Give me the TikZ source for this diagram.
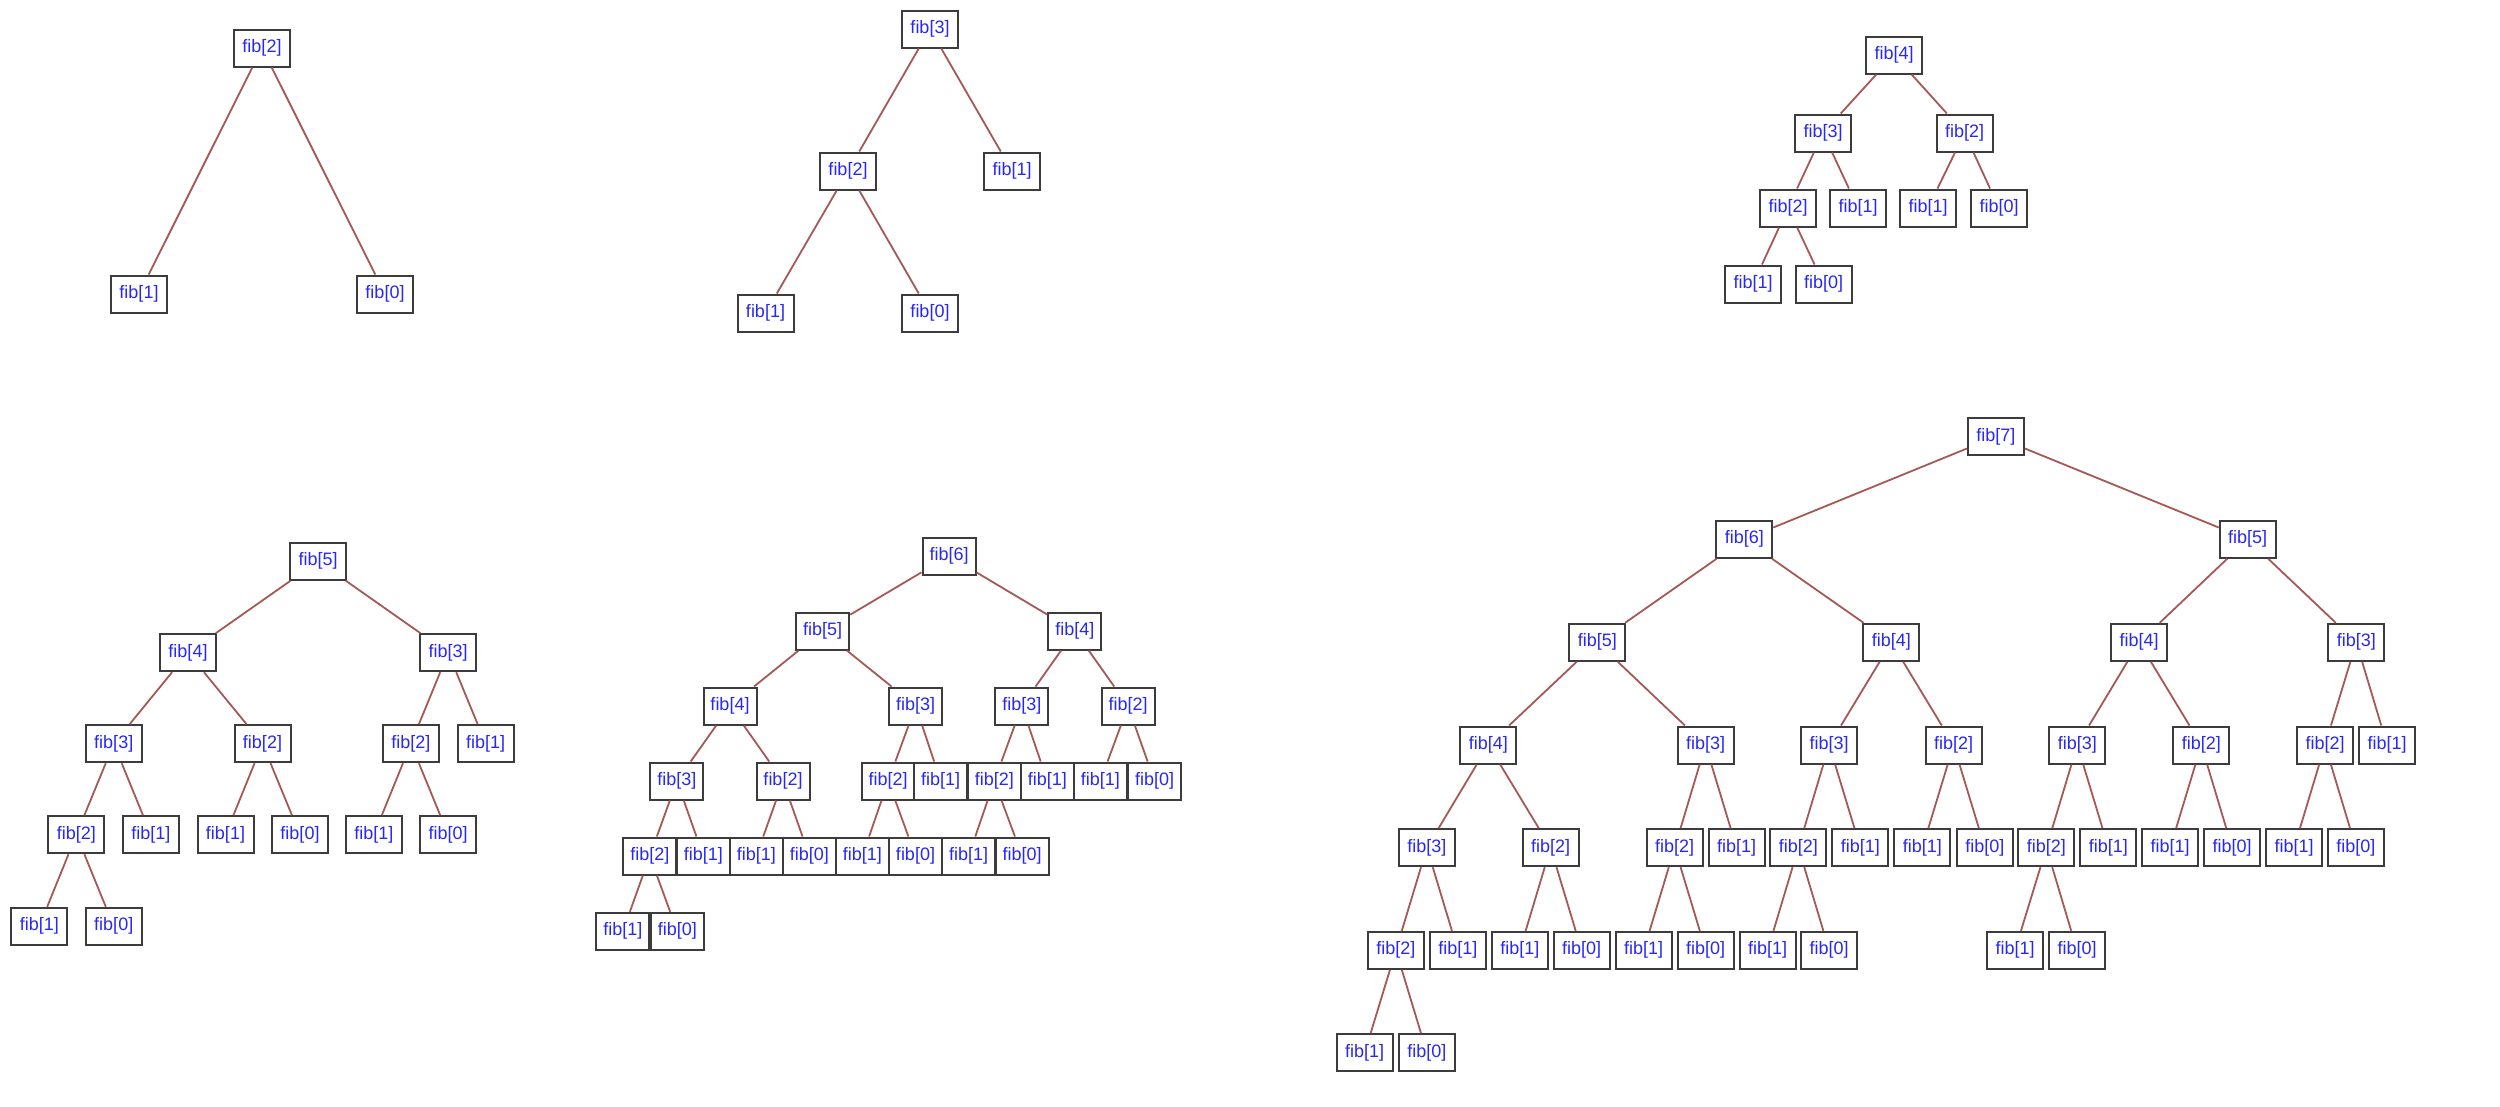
\documentclass[tikz,border=0pt]{standalone}
\usepackage{fontspec}
\setmainfont{Liberation Sans}
\definecolor{edgecol}{RGB}{165,88,84}
\definecolor{boxcol}{RGB}{60,60,60}
\definecolor{txtcol}{RGB}{40,40,245}
\tikzset{
  box/.style={draw=boxcol, line width=2pt, fill=white, minimum width=56pt, minimum height=37pt,
    inner sep=0pt, font=\fontsize{18}{20}\selectfont, text=txtcol},
  narrowbox/.style={box, minimum width=53pt},
  edge/.style={draw=edgecol, line width=1.8pt}
}
\begin{document}
\begin{tikzpicture}[x=1pt,y=-1pt]
\useasboundingbox (0,0) rectangle (2500,1106);
% ---------- tree fib[2]
\node[box] (t1a) at (262,48) {fib[2]};
\node[box] (t1b) at (139,294) {fib[1]};
\node[box] (t1c) at (385,294) {fib[0]};
% ---------- tree fib[3]
\node[box] (t2a) at (930,29) {fib[3]};
\node[box] (t2b) at (848,171) {fib[2]};
\node[box] (t2c) at (1012,171) {fib[1]};
\node[box] (t2d) at (765.5,313) {fib[1]};
\node[box] (t2e) at (930,313) {fib[0]};
% ---------- tree fib[4]
\node[box] (t3a) at (1894,55) {fib[4]};
\node[box] (t3b) at (1823,133) {fib[3]};
\node[box] (t3c) at (1964.5,133) {fib[2]};
\node[box] (t3d) at (1788,208) {fib[2]};
\node[box] (t3e) at (1858,208) {fib[1]};
\node[box] (t3f) at (1928,208) {fib[1]};
\node[box] (t3g) at (1999,208) {fib[0]};
\node[box] (t3h) at (1753,284) {fib[1]};
\node[box] (t3i) at (1823.7,284) {fib[0]};
% ---------- tree fib[5]
\node[box] (t4a) at (318.2,561.3) {fib[5]};
\node[box] (t4b) at (188,652.7) {fib[4]};
\node[box] (t4c) at (448.2,652.7) {fib[3]};
\node[box] (t4d) at (113.75,743.7) {fib[3]};
\node[box] (t4e) at (262.5,743.7) {fib[2]};
\node[box] (t4f) at (410.9,743.7) {fib[2]};
\node[box] (t4g) at (485.7,743.7) {fib[1]};
\node[box] (t4h) at (76.4,834.7) {fib[2]};
\node[box] (t4i) at (150.9,834.7) {fib[1]};
\node[box] (t4j) at (225.5,834.7) {fib[1]};
\node[box] (t4k) at (300,834.7) {fib[0]};
\node[box] (t4l) at (373.9,834.7) {fib[1]};
\node[box] (t4m) at (448.2,834.7) {fib[0]};
\node[box] (t4n) at (39.3,926.3) {fib[1]};
\node[box] (t4o) at (113.75,926.3) {fib[0]};
% ---------- tree fib[6]
\node[narrowbox] (t5a) at (949,556) {fib[6]};
\node[narrowbox] (t5b) at (822.7,631) {fib[5]};
\node[narrowbox] (t5c) at (1074.9,631) {fib[4]};
\node[narrowbox] (t5d) at (730,706) {fib[4]};
\node[narrowbox] (t5e) at (915.7,706) {fib[3]};
\node[narrowbox] (t5f) at (1021.8,706) {fib[3]};
\node[narrowbox] (t5g) at (1128,706) {fib[2]};
\node[narrowbox] (t5h) at (676.9,781) {fib[3]};
\node[narrowbox] (t5i) at (783,781) {fib[2]};
\node[narrowbox] (t5j) at (888.2,781) {fib[2]};
\node[narrowbox] (t5k) at (940.6,781) {fib[1]};
\node[narrowbox] (t5l) at (994.3,781) {fib[2]};
\node[narrowbox] (t5m) at (1047.3,781) {fib[1]};
\node[narrowbox] (t5n) at (1100.4,781) {fib[1]};
\node[narrowbox] (t5o) at (1154.5,781) {fib[0]};
\node[narrowbox] (t5p) at (649.8,856) {fib[2]};
\node[narrowbox] (t5q) at (703.3,856) {fib[1]};
\node[narrowbox] (t5r) at (756.3,856) {fib[1]};
\node[narrowbox] (t5s) at (809.4,856) {fib[0]};
\node[narrowbox] (t5t) at (862.4,856) {fib[1]};
\node[narrowbox] (t5u) at (915.5,856) {fib[0]};
\node[narrowbox] (t5v) at (968.6,856) {fib[1]};
\node[narrowbox] (t5w) at (1022.2,856) {fib[0]};
\node[narrowbox] (t5x) at (622.9,931.3) {fib[1]};
\node[narrowbox] (t5y) at (677.3,931.3) {fib[0]};
% ---------- tree fib[7]
\node[box] (t6a) at (1995.9,436.7) {fib[7]};
\node[box] (t6b) at (1744.3,539.3) {fib[6]};
\node[box] (t6c) at (2247.7,539.3) {fib[5]};
\node[box] (t6d) at (1597.3,642.3) {fib[5]};
\node[box] (t6e) at (1891.4,642.3) {fib[4]};
\node[box] (t6f) at (2139.1,642.3) {fib[4]};
\node[box] (t6g) at (2356.3,642.3) {fib[3]};
\node[box] (t6h) at (1488.4,745) {fib[4]};
\node[box] (t6i) at (1705.5,745) {fib[3]};
\node[box] (t6j) at (1829.2,745) {fib[3]};
\node[box] (t6k) at (1953.6,745) {fib[2]};
\node[box] (t6l) at (2077.3,745) {fib[3]};
\node[box] (t6m) at (2201.3,745) {fib[2]};
\node[box] (t6n) at (2325,745) {fib[2]};
\node[box] (t6o) at (2387.1,745) {fib[1]};
\node[box] (t6p) at (1426.9,847.7) {fib[3]};
\node[box] (t6q) at (1550.6,847.7) {fib[2]};
\node[box] (t6r) at (1674.7,847.7) {fib[2]};
\node[box] (t6s) at (1736.5,847.7) {fib[1]};
\node[box] (t6t) at (1798.4,847.7) {fib[2]};
\node[box] (t6u) at (1860.4,847.7) {fib[1]};
\node[box] (t6v) at (1922.4,847.7) {fib[1]};
\node[box] (t6w) at (1984.8,847.7) {fib[0]};
\node[box] (t6x) at (2046.4,847.7) {fib[2]};
\node[box] (t6y) at (2108.4,847.7) {fib[1]};
\node[box] (t6z) at (2170.2,847.7) {fib[1]};
\node[box] (t6aa) at (2232.1,847.7) {fib[0]};
\node[box] (t6ab) at (2294.1,847.7) {fib[1]};
\node[box] (t6ac) at (2355.9,847.7) {fib[0]};
\node[box] (t6ad) at (1395.9,950.3) {fib[2]};
\node[box] (t6ae) at (1457.8,950.3) {fib[1]};
\node[box] (t6af) at (1519.8,950.3) {fib[1]};
\node[box] (t6ag) at (1581.6,950.3) {fib[0]};
\node[box] (t6ah) at (1643.7,950.3) {fib[1]};
\node[box] (t6ai) at (1705.7,950.3) {fib[0]};
\node[box] (t6aj) at (1767.6,950.3) {fib[1]};
\node[box] (t6ak) at (1829.2,950.3) {fib[0]};
\node[box] (t6al) at (2015,950.3) {fib[1]};
\node[box] (t6am) at (2077,950.3) {fib[0]};
\node[box] (t6an) at (1364.7,1052.7) {fib[1]};
\node[box] (t6ao) at (1426.9,1052.7) {fib[0]};
% ---------- connectors
\foreach \p/\c in {t1a/t1b,t1a/t1c,
  t2a/t2b,t2a/t2c,t2b/t2d,t2b/t2e,
  t3a/t3b,t3a/t3c,t3b/t3d,t3b/t3e,t3c/t3f,t3c/t3g,t3d/t3h,t3d/t3i,
  t4a/t4b,t4a/t4c,t4b/t4d,t4b/t4e,t4c/t4f,t4c/t4g,t4d/t4h,t4d/t4i,t4e/t4j,t4e/t4k,t4f/t4l,t4f/t4m,t4h/t4n,t4h/t4o,
  t5a/t5b,t5a/t5c,t5b/t5d,t5b/t5e,t5c/t5f,t5c/t5g,t5d/t5h,t5d/t5i,t5e/t5j,t5e/t5k,t5f/t5l,t5f/t5m,t5g/t5n,t5g/t5o,
  t5h/t5p,t5h/t5q,t5i/t5r,t5i/t5s,t5j/t5t,t5j/t5u,t5l/t5v,t5l/t5w,t5p/t5x,t5p/t5y,
  t6a/t6b,t6a/t6c,t6b/t6d,t6b/t6e,t6c/t6f,t6c/t6g,t6d/t6h,t6d/t6i,t6e/t6j,t6e/t6k,t6f/t6l,t6f/t6m,t6g/t6n,t6g/t6o,
  t6h/t6p,t6h/t6q,t6i/t6r,t6i/t6s,t6j/t6t,t6j/t6u,t6k/t6v,t6k/t6w,t6l/t6x,t6l/t6y,t6m/t6z,t6m/t6aa,t6n/t6ab,t6n/t6ac,
  t6p/t6ad,t6p/t6ae,t6q/t6af,t6q/t6ag,t6r/t6ah,t6r/t6ai,t6t/t6aj,t6t/t6ak,t6x/t6al,t6x/t6am,t6ad/t6an,t6ad/t6ao}
  \draw[edge] (\p) -- (\c);
\end{tikzpicture}
\end{document}
